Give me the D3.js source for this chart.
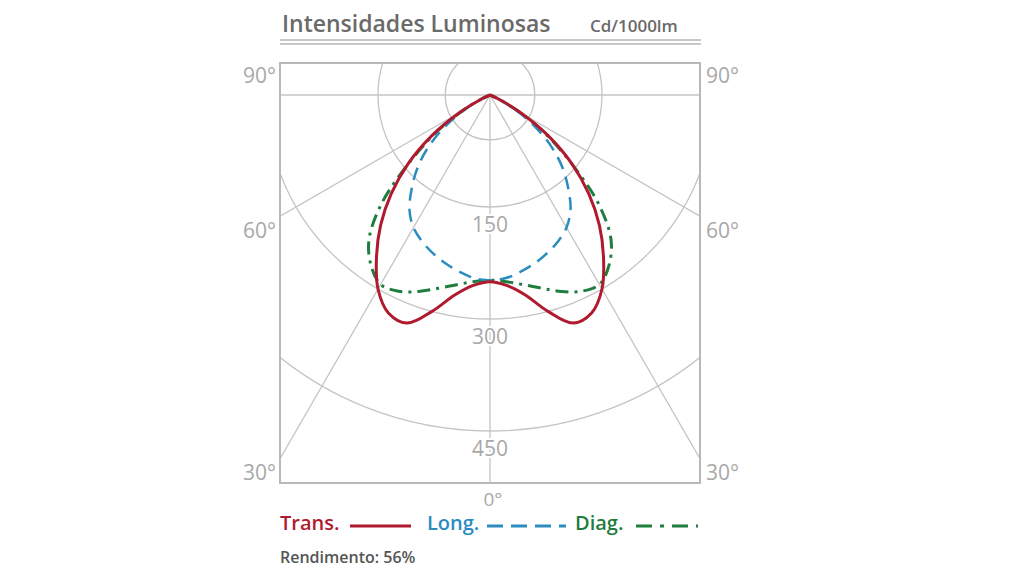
<!DOCTYPE html>
<html><head><meta charset="utf-8">
<script src="https://cdn.jsdelivr.net/npm/d3@7"></script>
<style>body{margin:0;background:#fff}svg{display:block;font-family:"Open Sans",sans-serif}</style>
</head><body><div id="chart"></div>
<script>
const angles = [0,5,10,15,20,25,30,35,40,45,50,55,60,65,70];
const trans = [250,256,272,300,325,322,300,265,228,187,143,95,47,12,0];
const long = [248,246,240,233,225,216,205,188,163,137,107,73,38,10,0];
const diag = [248,251,258,268,280,290,293,278,252,205,142,90,44,12,0];
const rings = [60,150,300,450];
const ringLabels = [150,300,450];
const spokes = [-90,-60,-30,0,30,60,90];
const sideTicks = [{t:"90°",y:75},{t:"60°",y:230},{t:"30°",y:472}];

const width = 1024, height = 576;
const cx = 490, cy = 95;
const box = {x0:280,x1:700,y0:63,y1:483};
const r = d3.scaleLinear().domain([0,150]).range([0,112]);

const svg = d3.select("#chart").append("svg").attr("width",width).attr("height",height);
const grid = "#c4c4c4";

svg.append("defs").append("clipPath").attr("id","clip")
  .append("rect").attr("x",box.x0).attr("y",box.y0).attr("width",box.x1-box.x0).attr("height",box.y1-box.y0);

const g = svg.append("g").attr("clip-path","url(#clip)");
g.selectAll("circle").data(rings).enter().append("circle")
  .attr("cx",cx).attr("cy",cy).attr("r",d=>r(d))
  .attr("fill","none").attr("stroke",grid).attr("stroke-width",1.3);
g.selectAll("line").data(spokes).enter().append("line")
  .attr("x1",cx).attr("y1",cy)
  .attr("x2",d=>cx+Math.sin(d*Math.PI/180)*800)
  .attr("y2",d=>cy+Math.cos(d*Math.PI/180)*800)
  .attr("stroke",grid).attr("stroke-width",1.3);
svg.append("rect").attr("x",box.x0).attr("y",box.y0).attr("width",box.x1-box.x0).attr("height",box.y1-box.y0)
  .attr("fill","none").attr("stroke","#b8b8b8").attr("stroke-width",2);

svg.selectAll(".rl").data(ringLabels).enter().append("text")
  .attr("x",cx).attr("y",d=>cy+r(d)+25).attr("text-anchor","middle")
  .attr("font-size",21).attr("fill","#a8a8a8").text(d=>d)
  .style("paint-order","stroke").attr("stroke","#fff").attr("stroke-width",4);

sideTicks.forEach(s=>{
  svg.append("text").attr("x",box.x0-4).attr("y",s.y+8).attr("text-anchor","end")
    .attr("font-size",21).attr("fill","#a8a8a8").text(s.t);
  svg.append("text").attr("x",box.x1+6).attr("y",s.y+8)
    .attr("font-size",21).attr("fill","#a8a8a8").text(s.t);
});
svg.append("text").attr("x",cx+3).attr("y",506).attr("text-anchor","middle")
  .attr("font-size",19).attr("fill","#a8a8a8").text("0°");

function pts(vals){
  const half = angles.map((a,i)=>[a,vals[i]]);
  const left = half.slice(1).reverse().map(([a,v])=>[-a,v]);
  return left.concat(half);
}
const line = d3.lineRadial()
  .angle(d=>Math.PI - d[0]*Math.PI/180)
  .radius(d=>r(d[1]))
  .curve(d3.curveCatmullRom);

const series = [
  {v:diag,c:"#1f7d3e",dash:"13,6,3,6",w:3},
  {v:long,c:"#2b8cbf",dash:"13,8",w:2.5},
  {v:trans,c:"#b01a2e",dash:null,w:3}
];
series.forEach(s=>{
  svg.append("path").attr("d",line(pts(s.v)))
    .attr("transform",`translate(${cx},${cy})`)
    .attr("fill","none").attr("stroke",s.c).attr("stroke-width",s.w)
    .attr("stroke-dasharray",s.dash).attr("stroke-linejoin","round");
});

// title
svg.append("text").attr("x",282).attr("y",32).attr("font-size",23).attr("font-weight",600).attr("fill","#6a6a6a")
  .text("Intensidades Luminosas");
svg.append("text").attr("x",590).attr("y",32).attr("font-size",17).attr("font-weight",600).attr("fill","#6a6a6a")
  .text("Cd/1000lm");
[40,44].forEach(y=>svg.append("line").attr("x1",280).attr("x2",701).attr("y1",y).attr("y2",y)
  .attr("stroke","#c8c8c8").attr("stroke-width",2));

// legend
const legend = [
  {t:"Trans.",x:280,c:"#b01a2e",lx:[350,411],dash:null},
  {t:"Long.",x:427,c:"#2b8cbf",lx:[487,566],dash:"16,8"},
  {t:"Diag.",x:575,c:"#1f7d3e",lx:[636,698],dash:"16,8,4,8"}
];
legend.forEach(l=>{
  svg.append("text").attr("x",l.x).attr("y",530).attr("font-size",20).attr("font-weight",600).attr("fill",l.c).text(l.t);
  svg.append("line").attr("x1",l.lx[0]).attr("x2",l.lx[1]).attr("y1",526).attr("y2",526)
    .attr("stroke",l.c).attr("stroke-width",3).attr("stroke-dasharray",l.dash);
});
svg.append("text").attr("x",280).attr("y",563).attr("font-size",16).attr("font-weight",600).attr("fill","#555")
  .text("Rendimento: 56%");
</script></body></html>
